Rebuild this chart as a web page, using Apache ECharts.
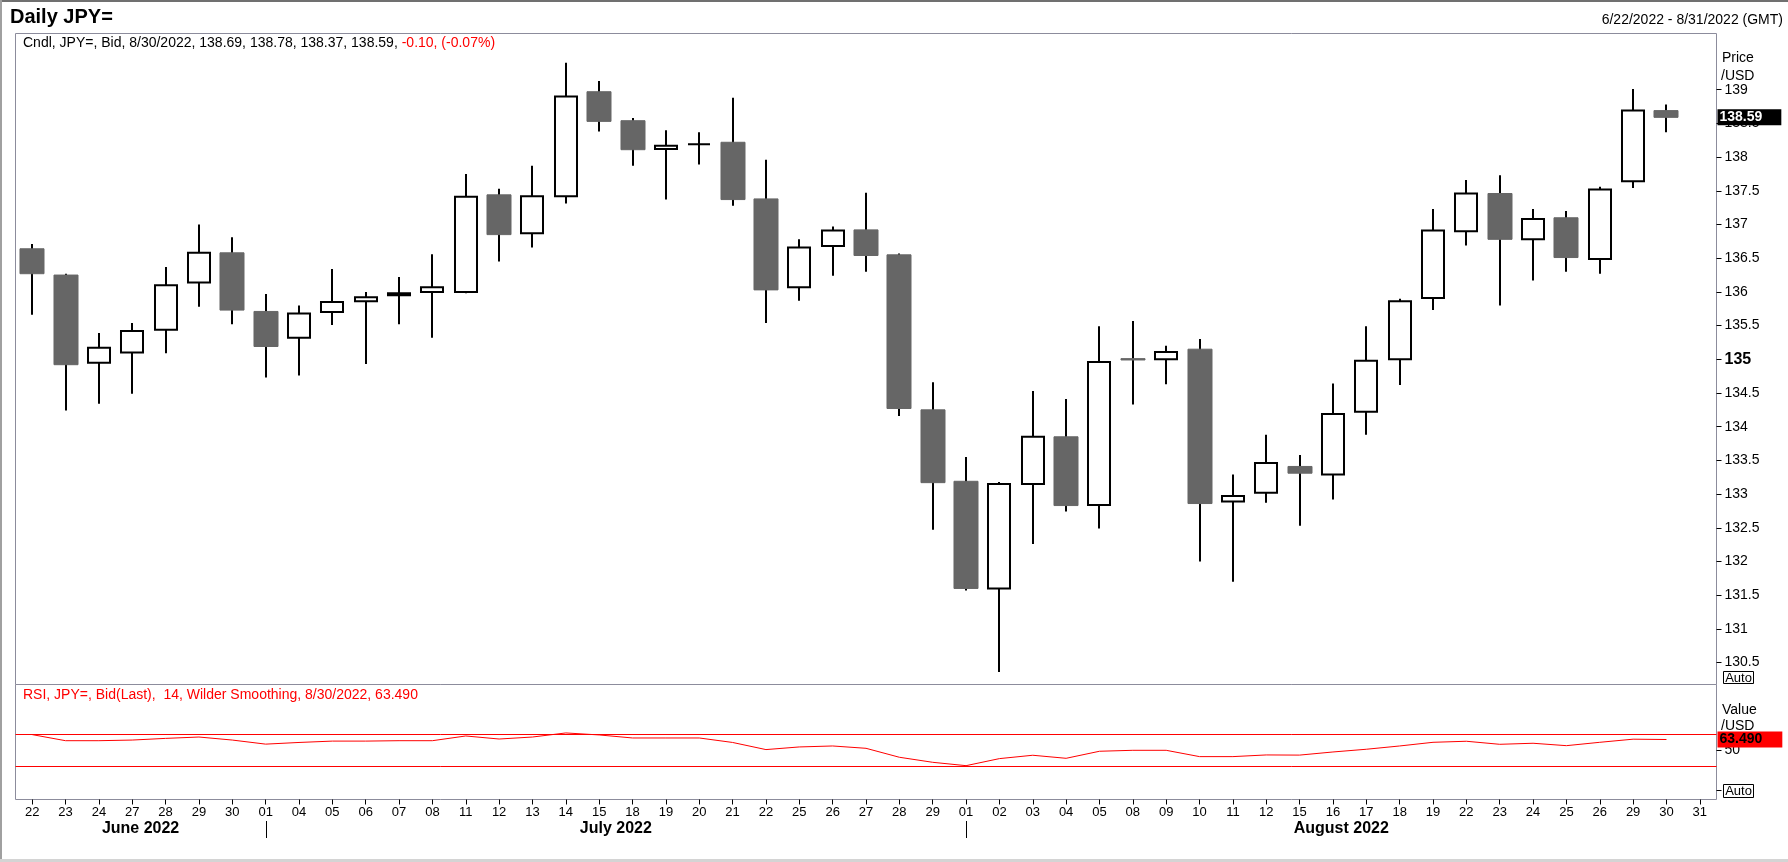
<!DOCTYPE html>
<html>
<head>
<meta charset="utf-8">
<script src="https://cdn.jsdelivr.net/npm/echarts@6/dist/echarts.min.js"></script>
<style>
html,body{margin:0;padding:0;background:#fff;}
#c{width:1788px;height:862px;}
</style>
</head>
<body>
<div id="c"></div>
<script>
const dates = [
  '2022-06-22','2022-06-23','2022-06-24','2022-06-27','2022-06-28','2022-06-29','2022-06-30',
  '2022-07-01','2022-07-04','2022-07-05','2022-07-06','2022-07-07','2022-07-08','2022-07-11',
  '2022-07-12','2022-07-13','2022-07-14','2022-07-15','2022-07-18','2022-07-19','2022-07-20',
  '2022-07-21','2022-07-22','2022-07-25','2022-07-26','2022-07-27','2022-07-28','2022-07-29',
  '2022-08-01','2022-08-02','2022-08-03','2022-08-04','2022-08-05','2022-08-08','2022-08-09',
  '2022-08-10','2022-08-11','2022-08-12','2022-08-15','2022-08-16','2022-08-17','2022-08-18',
  '2022-08-19','2022-08-22','2022-08-23','2022-08-24','2022-08-25','2022-08-26','2022-08-29',
  '2022-08-30','2022-08-31'
];
const open = [
  136.64,136.25,134.95,135.10,135.44,136.14,136.58,135.71,135.32,135.70,
  135.86,135.95,136.00,136.00,137.44,136.87,137.42,138.97,138.54,138.12,
  138.19,138.22,137.38,136.07,136.68,136.92,136.55,134.25,133.19,131.60,
  133.15,133.85,132.84,135.01,135.00,135.15,132.89,133.02,133.41,133.29,
  134.22,135.00,135.91,136.90,137.46,136.78,137.10,136.49,137.64,138.69
];
const high = [
  136.71,136.27,135.39,135.54,136.37,137.00,136.81,135.97,135.80,136.34,
  136.00,136.22,136.56,137.75,137.53,137.87,139.40,139.13,138.58,138.40,
  138.37,138.88,137.96,136.78,136.97,137.47,136.57,134.66,133.55,133.18,
  134.53,134.41,135.49,135.57,135.20,135.30,133.29,133.88,133.58,134.64,
  135.49,135.90,137.23,137.66,137.73,137.23,137.20,137.56,139.01,138.78
];
const low = [
  135.66,134.24,134.34,134.49,135.09,135.78,135.52,134.73,134.76,135.51,
  134.93,135.52,135.32,135.98,136.45,136.66,137.31,138.38,137.87,137.37,
  137.89,137.28,135.54,135.87,136.24,136.30,134.16,132.47,131.57,130.36,
  132.26,132.74,132.49,134.33,134.63,132.00,131.70,132.87,132.53,132.92,
  133.88,134.62,135.73,136.69,135.80,136.17,136.30,136.27,137.54,138.37
];
const close = [
  136.27,134.92,135.17,135.42,136.10,136.58,135.73,135.19,135.68,135.85,
  135.92,135.98,136.07,137.41,136.85,137.42,138.90,138.53,138.11,138.17,
  138.19,137.37,136.03,136.66,136.91,136.54,134.27,133.17,131.60,133.15,
  133.85,132.83,134.96,134.99,135.11,132.86,132.97,133.46,133.31,134.19,
  134.98,135.86,136.91,137.46,136.78,137.08,136.51,137.52,138.69,138.59
];
const rsi = [
  69.6,62.0,62.0,62.8,64.9,66.6,62.8,57.7,59.8,61.5,
  61.5,62.0,62.0,67.9,64.1,66.6,71.7,69.2,65.4,65.4,
  65.4,59.8,50.9,54.2,55.4,52.5,41.3,35.0,30.8,39.6,
  43.8,40.0,48.8,50.0,50.0,42.1,42.1,44.2,44.0,47.9,
  51.3,55.4,60.0,61.3,57.5,58.8,55.8,60.0,63.9,63.49
];
const priceTicks = [130.5,131,131.5,132,132.5,133,133.5,134,134.5,135,135.5,136,136.5,137,137.5,138,138.5,139];
const rsiTickValues = [0,50];
const rsiLabelValues = [50];
const rsiLevels = [70,30];
const monthNames = ['January','February','March','April','May','June','July','August','September','October','November','December'];

const FONT = '"Liberation Sans", Arial, Helvetica, sans-serif';
const last = close.length - 1;
const fmtDate = d => { const p = d.split('-'); return (+p[1]) + '/' + (+p[2]) + '/' + p[0]; };
const chg = close[last] - close[last - 1];
const pct = chg / close[last - 1] * 100;
const cndlBlack = 'Cndl, JPY=, Bid, ' + fmtDate(dates[last]) + ', ' + open[last].toFixed(2) + ', ' +
  high[last].toFixed(2) + ', ' + low[last].toFixed(2) + ', ' + close[last].toFixed(2) + ', ';
const cndlRed = chg.toFixed(2) + ', (' + pct.toFixed(2) + '%)';
const rsiHeader = 'RSI, JPY=, Bid(Last),  14, Wilder Smoothing, ' + fmtDate(dates[last]) + ', ' + rsi[last].toFixed(3);
const rangeText = fmtDate(dates[0]) + ' - ' + fmtDate(dates[dates.length - 1]) + ' (GMT)';

const candleData = open.map((o, i) => [i, o, close[i], low[i], high[i]]);

function renderCandle(params, api) {
  const i = api.value(0), o = api.value(1), c = api.value(2), l = api.value(3), h = api.value(4);
  const prev = i > 0 ? close[i - 1] : o;
  const up = c > o || (c === o && prev <= c);
  const pTop = api.coord([i, Math.max(o, c)]);
  const pBot = api.coord([i, Math.min(o, c)]);
  const pH = api.coord([i, h]);
  const pL = api.coord([i, l]);
  const band = api.size([1, 0])[0];
  const x = Math.round(pTop[0]);
  const bodyH = Math.max(pBot[1] - pTop[1], 0);
  const w = up ? band * 0.66 : band * 0.72;
  return {
    type: 'group',
    children: [
      { type: 'line', shape: { x1: x, y1: pH[1], x2: x, y2: pL[1] }, style: { stroke: '#000', lineWidth: 2 } },
      { type: 'rect', shape: { x: x - w / 2, y: pTop[1], width: w, height: bodyH },
        style: up ? { fill: '#ffffff', stroke: '#000', lineWidth: 2 } : { fill: '#666666', stroke: '#666666', lineWidth: 1 } }
    ]
  };
}

const option = {
  animation: false,
  backgroundColor: '#ffffff',
  textStyle: { fontFamily: FONT },
  grid: [
    { left: 15.5, width: 1701, top: 33.5, height: 651, show: true, borderColor: '#8c8c9c', borderWidth: 1, backgroundColor: '#fff' },
    { left: 15.5, width: 1701, top: 684.5, height: 115, show: true, borderColor: '#8c8c9c', borderWidth: 1, backgroundColor: '#fff' }
  ],
  xAxis: [
    { type: 'category', gridIndex: 0, data: dates, boundaryGap: true, position: 'bottom',
      axisLine: { show: false, onZero: false }, axisTick: { show: false }, axisLabel: { show: false }, splitLine: { show: false } },
    { type: 'category', gridIndex: 1, data: dates, boundaryGap: true, position: 'bottom',
      axisLine: { show: false, onZero: false },
      axisTick: { show: true, alignWithLabel: true, interval: 0, length: 5, lineStyle: { color: '#000', width: 1 } },
      axisLabel: { interval: 0, formatter: v => v.slice(8), fontSize: 13, color: '#000', fontFamily: FONT, margin: 6 },
      splitLine: { show: false } }
  ],
  yAxis: [
    { type: 'value', gridIndex: 0, position: 'right', min: 130.175, max: 139.834,
      splitLine: { show: false }, axisLine: { show: false, onZero: false },
      axisTick: { show: true, length: 5, customValues: priceTicks, lineStyle: { color: '#000' } },
      axisLabel: { customValues: priceTicks, margin: 8, fontSize: 14, color: '#000', fontFamily: FONT,
        formatter: v => { const s = String(Math.round(v * 10) / 10); return Math.abs(v - 135) < 1e-6 ? '{b|' + s + '}' : s; },
        rich: { b: { fontWeight: 'bold', fontSize: 16, color: '#000', fontFamily: FONT } } } },
    { type: 'value', gridIndex: 1, position: 'right', min: -11.5, max: 132.25,
      splitLine: { show: false }, axisLine: { show: false, onZero: false },
      axisTick: { show: true, length: 5, customValues: rsiTickValues, lineStyle: { color: '#000' } },
      axisLabel: { customValues: rsiLabelValues, margin: 8, fontSize: 14, color: '#000', fontFamily: FONT } }
  ],
  series: [
    { type: 'custom', name: 'JPY=', xAxisIndex: 0, yAxisIndex: 0, data: candleData,
      encode: { x: 0, y: [1, 2, 3, 4] }, renderItem: renderCandle, silent: true,
      markLine: { silent: true, symbol: 'none', animation: false,
        lineStyle: { color: 'rgba(0,0,0,0)', width: 0 },
        label: { show: true, position: 'end', distance: 1, formatter: p => Number(p.value).toFixed(2),
          backgroundColor: '#000', color: '#fff', fontWeight: 'bold', fontSize: 14, fontFamily: FONT,
          padding: [1, 19, 0, 2], lineHeight: 15 },
        data: [{ yAxis: close[last] }] } },
    { type: 'line', name: 'RSI', xAxisIndex: 1, yAxisIndex: 1, data: rsi, symbol: 'none', silent: true,
      lineStyle: { color: '#ff0000', width: 1 }, itemStyle: { color: '#ff0000' },
      markLine: { silent: true, symbol: 'none', animation: false,
        data: [
          { yAxis: rsiLevels[0], lineStyle: { color: '#ff0000', width: 1, type: 'solid' }, label: { show: false } },
          { yAxis: rsiLevels[1], lineStyle: { color: '#ff0000', width: 1, type: 'solid' }, label: { show: false } },
          { yAxis: rsi[last], lineStyle: { color: 'rgba(0,0,0,0)', width: 0 },
            label: { show: true, position: 'end', distance: 1, formatter: p => Number(p.value).toFixed(3),
              backgroundColor: '#ff0000', color: '#000', fontWeight: 'bold', fontSize: 14, fontFamily: FONT,
              padding: [1, 20, 0, 2], lineHeight: 15 } }
        ] } }
  ]
};

const chart = echarts.init(document.getElementById('c'));
chart.setOption(option);

function txt(x, y, text, font, fill, align) {
  return { type: 'text', x: x, y: y, silent: true, z: 100,
    style: { text: text, font: font, fill: fill || '#000', textAlign: align || 'left', align: align || 'left',
      textVerticalAlign: 'middle', verticalAlign: 'middle' } };
}

const px = i => chart.convertToPixel({ xAxisIndex: 1 }, dates[i]);
const n = dates.length;
const band = px(1) - px(0);
const monthStarts = [];
for (let i = 1; i < n; i++) if (dates[i].slice(5, 7) !== dates[i - 1].slice(5, 7)) monthStarts.push(i);
const bounds = [px(0) - band / 2].concat(monthStarts.map(i => px(i)), [px(n - 1) + band / 2]);
const segStarts = [0].concat(monthStarts);

const graphics = [
  { type: 'rect', shape: { x: 0, y: 0, width: 1788, height: 2 }, style: { fill: '#707070' }, silent: true, z: 100 },
  { type: 'rect', shape: { x: 0, y: 0, width: 2, height: 862 }, style: { fill: '#a0a0a0' }, silent: true, z: 100 },
  { type: 'rect', shape: { x: 0, y: 859, width: 1788, height: 3 }, style: { fill: '#d4d4d4' }, silent: true, z: 100 },
  txt(10, 17, 'Daily JPY=', 'bold 20px ' + FONT, '#000'),
  txt(1783, 20, rangeText, '14px ' + FONT, '#000', 'right'),
  { type: 'text', x: 23, y: 43.5, silent: true, z: 100,
    style: { text: '{k|' + cndlBlack + '}{r|' + cndlRed + '}', font: '14px ' + FONT,
      textVerticalAlign: 'middle', verticalAlign: 'middle',
      rich: { k: { fill: '#000', color: '#000', font: '14px ' + FONT, fontSize: 14, fontFamily: FONT },
              r: { fill: '#ff0000', color: '#ff0000', font: '14px ' + FONT, fontSize: 14, fontFamily: FONT } } } },
  txt(23, 695, rsiHeader, '14px ' + FONT, '#ff0000'),
  txt(1722, 58, 'Price', '14px ' + FONT, '#000'),
  txt(1721, 76, '/USD', '14px ' + FONT, '#000'),
  txt(1722, 710.5, 'Value', '14px ' + FONT, '#000'),
  txt(1721, 726.5, '/USD', '14px ' + FONT, '#000'),
  { type: 'rect', shape: { x: 1723.5, y: 671.5, width: 30, height: 12 }, style: { fill: '#fff', stroke: '#000', lineWidth: 1 }, silent: true, z: 100 },
  txt(1738.5, 678, 'Auto', '13px ' + FONT, '#000', 'center'),
  { type: 'rect', shape: { x: 1723.5, y: 784.5, width: 30, height: 13 }, style: { fill: '#fff', stroke: '#000', lineWidth: 1 }, silent: true, z: 100 },
  txt(1738.5, 791.5, 'Auto', '13px ' + FONT, '#000', 'center')
];
for (let k = 0; k < segStarts.length; k++) {
  const d = dates[segStarts[k]];
  const label = monthNames[+d.slice(5, 7) - 1] + ' ' + d.slice(0, 4);
  graphics.push(txt((bounds[k] + bounds[k + 1]) / 2, 829, label, 'bold 16px ' + FONT, '#000', 'center'));
}
monthStarts.forEach(i => {
  const x = Math.round(px(i)) + 0.5;
  graphics.push({ type: 'line', shape: { x1: x, y1: 821, x2: x, y2: 838 }, style: { stroke: '#000', lineWidth: 1 }, silent: true, z: 100 });
});
chart.setOption({ graphic: graphics });
</script>
</body>
</html>
